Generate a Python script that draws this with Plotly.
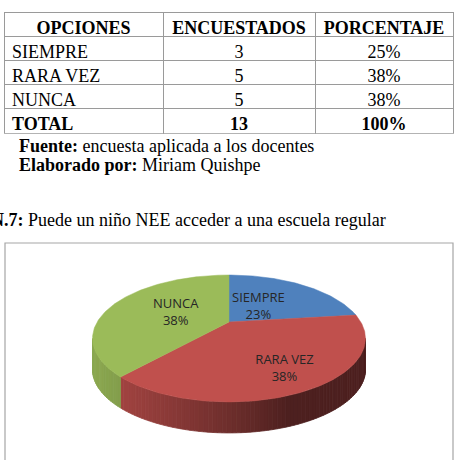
import math
import plotly.graph_objects as go

# ---------------- data ----------------
HEADERS = ["OPCIONES", "ENCUESTADOS", "PORCENTAJE"]
OPCIONES = ["SIEMPRE", "RARA VEZ", "NUNCA"]
ENCUESTADOS = [3, 5, 5]
PORCENTAJE = ["25%", "38%", "38%"]
TOTAL_ROW = ["TOTAL", "13", "100%"]
FUENTE = "encuesta aplicada a los docentes"
ELABORADO = "Miriam Quishpe"
TITULO = "Puede un niño NEE acceder a una escuela regular"
TITULO_NUM = "N.7:"

# ---------------- styles ----------------
W, H = 462, 460
SLICE_COLORS = [(79, 129, 189), (192, 80, 77), (155, 187, 89)]
LABEL_RADIUS = [0.36, 0.75, 0.45]   # best-fit label placement per slice
SERIF = "Liberation Serif, Times New Roman, serif"
FS = 18
TABLE_LINE = "#9a9a9a"
ROW_H = 24.2

# pie projection parameters (pixel space)
CX, CY = 229.0, 322.0
SCALE = 131.8
K_PERSP = 0.2596
SIN_TILT = 0.449
DEPTH = 31.0


def proj(phi_deg, r=1.0):
    p = math.radians(phi_deg)
    den = 1.0 + K_PERSP * r * math.sin(p)
    u = r * math.cos(p) / den
    v = SIN_TILT * r * math.sin(p) / den
    return CX + SCALE * u, CY - SCALE * v


def rgb(c, f=1.0):
    return "rgb(%d,%d,%d)" % tuple(max(0, min(255, int(round(x * f)))) for x in c)


fig = go.Figure()

# ---------------- table ----------------
TOP = 12
x_dom = [4 / W, 453 / W]
n_rows = len(OPCIONES)
main_bottom = TOP + ROW_H * (n_rows + 1)
fig.add_trace(go.Table(
    domain=dict(x=x_dom, y=[1 - (main_bottom + 1) / H, 1 - TOP / H]),
    columnwidth=[159, 152, 138],
    header=dict(values=HEADERS, align="center",
                height=ROW_H, line=dict(color=TABLE_LINE, width=1),
                fill=dict(color="white"),
                font=dict(family=SERIF, size=FS, color="black", weight="bold")),
    cells=dict(values=[OPCIONES, [str(v) for v in ENCUESTADOS], PORCENTAJE],
               align=["left", "center", "center"],
               height=ROW_H, line=dict(color=TABLE_LINE, width=1),
               fill=dict(color="white"),
               font=dict(family=SERIF, size=FS, color="black")),
))
fig.add_trace(go.Table(
    domain=dict(x=x_dom, y=[1 - (main_bottom + ROW_H + 1) / H, 1 - main_bottom / H]),
    columnwidth=[159, 152, 138],
    header=dict(values=TOTAL_ROW, align=["left", "center", "center"],
                height=ROW_H, line=dict(color=TABLE_LINE, width=1),
                fill=dict(color="white"),
                font=dict(family=SERIF, size=FS, color="black", weight="bold")),
    cells=dict(values=[[], [], []], height=ROW_H),
))

# ---------------- 3D pie ----------------
total = sum(ENCUESTADOS)
angles = []
cum = 0
for v in ENCUESTADOS:
    a0 = 90 - 360 * cum / total
    cum += v
    a1 = 90 - 360 * cum / total
    angles.append((a1, a0))

vis_lo = -180 + math.degrees(math.asin(K_PERSP))  # left extreme
vis_hi = -math.degrees(math.asin(K_PERSP))        # right extreme


def shade(phi):
    return 0.4 + 0.5 * max(0.0, math.cos(math.radians(phi + 160)))


# side walls
for i, (a1, a0) in enumerate(angles):
    for shift in (-360, 0, 360):
        lo = max(a1 + shift, vis_lo)
        hi = min(a0 + shift, vis_hi)
        if hi <= lo:
            continue
        n = max(2, int((hi - lo) / 1.5))
        for j in range(n):
            p1 = lo + (hi - lo) * j / n
            p2 = lo + (hi - lo) * (j + 1) / n
            pts = [proj(p1), proj(p2)]
            xs = [pts[0][0], pts[1][0], pts[1][0], pts[0][0], pts[0][0]]
            ys = [pts[0][1], pts[1][1], pts[1][1] + DEPTH, pts[0][1] + DEPTH, pts[0][1]]
            col = rgb(SLICE_COLORS[i], shade((p1 + p2) / 2))
            fig.add_trace(go.Scatter(x=xs, y=ys, mode="lines", fill="toself",
                                     fillcolor=col, line=dict(color=col, width=0.8),
                                     hoverinfo="skip", showlegend=False))

# top faces
for i, (a1, a0) in enumerate(angles):
    n = max(8, int((a0 - a1) / 1.0))
    xs, ys = [CX], [CY]
    for j in range(n + 1):
        x, y = proj(a0 - (a0 - a1) * j / n)
        xs.append(x)
        ys.append(y)
    xs.append(CX)
    ys.append(CY)
    col = rgb(SLICE_COLORS[i])
    fig.add_trace(go.Scatter(x=xs, y=ys, mode="lines", fill="toself",
                             fillcolor=col, line=dict(color=col, width=0.5),
                             hoverinfo="skip", showlegend=False))

# slice labels
lx, ly, lt = [], [], []
for i, (a1, a0) in enumerate(angles):
    x, y = proj((a0 + a1) / 2, LABEL_RADIUS[i])
    lx.append(x)
    ly.append(y)
    lt.append("%s<br>%d%%" % (OPCIONES[i], round(100 * ENCUESTADOS[i] / total)))
fig.add_trace(go.Scatter(x=lx, y=ly, mode="text", text=lt,
                         textfont=dict(family="Open Sans", size=13, color="#262626"),
                         hoverinfo="skip", showlegend=False))

# ---------------- texts ----------------
fig.add_annotation(x=17, y=146, xref="x", yref="y", xanchor="left", yanchor="middle",
                   text="<b>Fuente:</b> " + FUENTE, showarrow=False,
                   font=dict(family=SERIF, size=FS, color="black"))
fig.add_annotation(x=17, y=165, xref="x", yref="y", xanchor="left", yanchor="middle",
                   text="<b>Elaborado por:</b> " + ELABORADO, showarrow=False,
                   font=dict(family=SERIF, size=FS, color="black"))
fig.add_annotation(x=388, y=220, xref="x", yref="y", xanchor="right", yanchor="middle",
                   text="<b>%s</b> %s" % (TITULO_NUM, TITULO), showarrow=False,
                   font=dict(family=SERIF, size=FS, color="black"))

# chart frame
fig.add_shape(type="rect", xref="x", yref="y", x0=5, y0=243, x1=453, y1=475,
              line=dict(color="#a6a6a6", width=1.2), fillcolor="rgba(0,0,0,0)", layer="below")

fig.update_layout(
    width=W, height=H, margin=dict(l=0, r=0, t=0, b=0),
    paper_bgcolor="white", plot_bgcolor="white", showlegend=False,
    xaxis=dict(range=[0, W], visible=False, fixedrange=True, domain=[0, 1]),
    yaxis=dict(range=[H, 0], visible=False, fixedrange=True, domain=[0, 1]),
)

fig.write_html("out.html")
